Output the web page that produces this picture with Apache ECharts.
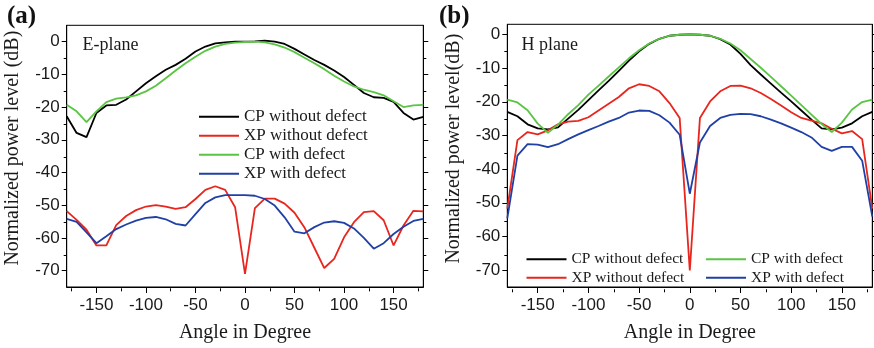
<!DOCTYPE html>
<html><head><meta charset="utf-8">
<script src="https://cdn.jsdelivr.net/npm/echarts@6/dist/echarts.min.js"></script>
<style>html,body{margin:0;padding:0;background:#fff}#c{width:874px;height:348px}</style>
</head><body><div id="c"></div>
<script>
// ---------- data ----------
const angles = [-180,-170,-160,-150,-140,-130,-120,-110,-100,-90,-80,-70,-60,-50,-40,-30,-20,-10,0,10,20,30,40,50,60,70,80,90,100,110,120,130,140,150,160,170,180];
const seriesNames = ['CP without defect','XP without defect','CP with defect','XP with defect'];

// (a) E-plane
const aCPwithout = [-22.8,-27.9,-29.2,-21.8,-19.5,-19.3,-17.7,-15.2,-12.7,-10.6,-8.6,-7.1,-5.2,-3.0,-1.5,-0.5,-0.2,0,0,0.1,0.3,0,-0.7,-2.2,-3.9,-5.6,-7.1,-8.8,-10.8,-13.2,-15.7,-17.0,-17.2,-18.4,-21.8,-23.8,-23.0];
const aXPwithout = [-51.8,-54.5,-57.5,-62.3,-62.3,-56.1,-53.3,-51.5,-50.4,-50.0,-50.4,-51.1,-50.6,-48.1,-45.3,-44.2,-45.3,-50.6,-71.0,-50.9,-48.0,-48.0,-49.5,-52.3,-56.8,-63.0,-69.2,-66.4,-59.8,-55.2,-52.1,-51.8,-54.6,-62.3,-56.2,-51.7,-51.9];
const aCPwith = [-19.3,-21.3,-24.6,-21.3,-18.5,-17.4,-17.0,-16.4,-15.2,-13.5,-11.2,-8.8,-6.6,-4.6,-2.8,-1.5,-0.7,-0.3,-0.1,0,-0.2,-0.8,-1.8,-3.2,-4.9,-6.6,-8.4,-10.4,-12.2,-13.7,-14.7,-15.4,-16.4,-18.2,-20.0,-19.5,-19.3];
const aXPwith = [-54.2,-55.1,-58.3,-61.6,-59.5,-57.3,-55.9,-54.7,-53.9,-53.6,-54.3,-55.7,-56.2,-52.7,-49.3,-47.6,-46.9,-46.9,-46.9,-47.1,-48.1,-50.1,-53.7,-58.1,-58.6,-56.7,-55.3,-54.9,-55.4,-57.1,-60.0,-63.3,-61.6,-58.8,-56.6,-54.8,-54.2];

// (b) H plane
const bCPwithout = [-23.0,-24.3,-26.7,-27.9,-28.2,-27.6,-25.0,-22.4,-19.5,-16.6,-13.8,-10.8,-7.8,-5.0,-2.8,-1.3,-0.4,-0.1,0,-0.1,-0.4,-1.4,-3.0,-5.8,-9.1,-11.9,-14.6,-17.3,-19.9,-22.6,-25.3,-27.9,-28.2,-27.7,-26.4,-24.3,-23.0];
const bXPwithout = [-51.7,-31.4,-29.0,-29.7,-28.5,-26.7,-25.9,-25.7,-24.6,-22.6,-20.6,-18.6,-16.0,-14.8,-15.3,-16.9,-20.4,-24.8,-70.1,-24.8,-19.9,-16.9,-15.3,-15.2,-16.0,-17.4,-19.2,-21.1,-23.1,-24.8,-25.6,-26.4,-28.0,-29.4,-28.7,-31.1,-51.7];
const bCPwith = [-19.4,-20.2,-22.5,-26.5,-29.2,-26.8,-23.7,-21.0,-17.9,-15.2,-12.5,-9.8,-7.1,-4.7,-2.7,-1.3,-0.4,-0.1,0,-0.1,-0.4,-1.3,-2.7,-4.7,-7.3,-9.9,-12.6,-15.4,-18.2,-21.0,-23.8,-26.6,-29.0,-26.2,-22.3,-20.1,-19.4];
const bXPwith = [-54.6,-36.0,-32.6,-32.7,-33.5,-32.6,-31.1,-29.7,-28.4,-27.2,-25.9,-24.8,-23.2,-22.6,-22.7,-24.0,-26.2,-29.8,-47.3,-32.1,-27.2,-24.8,-23.9,-23.6,-23.7,-24.3,-25.3,-26.4,-27.7,-29.0,-30.6,-33.4,-34.6,-33.4,-33.4,-37.5,-54.1];

// ticks
const xMajor = [-150,-100,-50,0,50,100,150];
const xMinor = [-175,-125,-75,-25,25,75,125,175];
const yMajor = [-70,-60,-50,-40,-30,-20,-10,0];
const yMinor = [-65,-55,-45,-35,-25,-15,-5];

// ---------- style ----------
const SERIF = '"Liberation Serif","Times New Roman",serif';
const SANS = '"Liberation Sans",Arial,sans-serif';
const COLORS = {'CP without defect':'#000000','XP without defect':'#e8261e','CP with defect':'#5ac443','XP with defect':'#2140a6'};
const TXT = '#1a1a1a';

const gridA = {left:66.7, right:450.7, top:25.3, bottom:59.7};
const gridB = {left:507.3, right:1.7, top:24.3, bottom:58.7};
const yRangeA = {min:-75, max:5};
const yRangeB = {min:-75, max:3};

function xMain(g){
  return {gridIndex:g, type:'value', min:-180, max:180, position:'bottom',
    axisLine:{onZero:false, lineStyle:{color:'#000',width:1}},
    axisTick:{customValues:xMajor, length:6, lineStyle:{color:'#000'}},
    axisLabel:{customValues:xMajor, fontSize:17, fontFamily:SANS, color:TXT, margin:10},
    splitLine:{show:false},
    name:'Angle in Degree', nameLocation:'middle', nameGap:36,
    nameTextStyle:{fontFamily:SERIF, fontSize:20, color:TXT}};
}
function xMinorAx(g){
  return {gridIndex:g, type:'value', min:-180, max:180, position:'bottom',
    axisLine:{show:false, onZero:false}, axisTick:{customValues:xMinor, length:3, lineStyle:{color:'#000'}},
    axisLabel:{show:false}, splitLine:{show:false}};
}
function yMain(g, r, name, pad){
  return {gridIndex:g, type:'value', min:r.min, max:r.max, position:'left',
    axisLine:{show:true, onZero:false, lineStyle:{color:'#000',width:1}},
    axisTick:{show:true, customValues:yMajor, length:5, lineStyle:{color:'#000'}},
    axisLabel:{customValues:yMajor, fontSize:17, fontFamily:SANS, color:TXT, margin:7},
    splitLine:{show:false},
    name:name, nameLocation:'middle', nameGap:44, nameRotate:90,
    nameTextStyle:{fontFamily:SERIF, fontSize:20, color:TXT, padding:[0,0,0,pad]}};
}
function yRightMain(g, r){
  return {gridIndex:g, type:'value', min:r.min, max:r.max, position:'right',
    axisLine:{show:true, onZero:false, lineStyle:{color:'#000',width:1}},
    axisTick:{show:true, customValues:yMajor, length:5, lineStyle:{color:'#000'}},
    axisLabel:{show:false}, splitLine:{show:false}};
}
function yMinorAx(g, r, pos){
  return {gridIndex:g, type:'value', min:r.min, max:r.max, position:pos,
    axisLine:{show:false, onZero:false},
    axisTick:{show:true, customValues:yMinor, length:3, lineStyle:{color:'#000'}},
    axisLabel:{show:false}, splitLine:{show:false}};
}

function mkSeries(name, vals, xi, yi){
  return {type:'line', name:name, xAxisIndex:xi, yAxisIndex:yi,
    data: angles.map((a,i)=>[a, vals[i]]),
    symbol:'none', smooth:false, z:3,
    lineStyle:{color:COLORS[name], width:1.8},
    itemStyle:{color:COLORS[name]}};
}

const borderGrid = {show:true, borderColor:'#000', borderWidth:1, backgroundColor:'transparent'};
function legendCfg(left, top, names, fs, lh){
  return {orient:'vertical', left:left, top:top, icon:'rect', itemWidth:40, itemHeight:2, itemGap:0,
    data:names, selectedMode:false,
    textStyle:{fontFamily:SERIF, fontSize:fs, color:TXT, lineHeight:lh}};
}

const option = {
  animation:false,
  backgroundColor:'#fff',
  grid:[
    Object.assign({}, gridA, borderGrid),
    Object.assign({}, gridB, borderGrid),
    Object.assign({}, gridA),
    Object.assign({}, gridB)
  ],
  xAxis:[xMain(0), xMain(1), xMinorAx(2), xMinorAx(3)],
  yAxis:[
    yMain(0, yRangeA, 'Normalized power level (dB)', 16),
    yRightMain(0, yRangeA),
    yMain(1, yRangeB, 'Normalized power level(dB)', 14),
    yRightMain(1, yRangeB),
    yMinorAx(2, yRangeA, 'left'),
    yMinorAx(2, yRangeA, 'right'),
    yMinorAx(3, yRangeB, 'left'),
    yMinorAx(3, yRangeB, 'right')
  ],
  legend:[
    legendCfg(194, 102.2, ['CP without defect','XP without defect','CP with defect','XP with defect'], 17, 19),
    legendCfg(521.5, 245.1, ['CP without defect','XP without defect'], 15.5, 18.4),
    legendCfg(701, 245.1, ['CP with defect','XP with defect'], 15.5, 18.4)
  ],
  graphic:[
    {type:'text', left:7, top:4, style:{text:'(a)', font:'bold 25px "Liberation Serif"', fill:'#111'}},
    {type:'text', left:439, top:4, style:{text:'(b)', font:'bold 25px "Liberation Serif"', fill:'#111'}},
    {type:'text', left:82.5, top:36, style:{text:'E-plane', font:'18px "Liberation Serif"', fill:TXT}},
    {type:'text', left:521.5, top:36, style:{text:'H plane', font:'18px "Liberation Serif"', fill:TXT}}
  ],
  series:[
    mkSeries('CP without defect', aCPwithout, 0, 0),
    mkSeries('XP without defect', aXPwithout, 0, 0),
    mkSeries('CP with defect', aCPwith, 0, 0),
    mkSeries('XP with defect', aXPwith, 0, 0),
    mkSeries('CP without defect', bCPwithout, 1, 2),
    mkSeries('XP without defect', bXPwithout, 1, 2),
    mkSeries('CP with defect', bCPwith, 1, 2),
    mkSeries('XP with defect', bXPwith, 1, 2)
  ]
};
const chart = echarts.init(document.getElementById('c'), null, {renderer:'canvas'});
chart.setOption(option);
</script></body></html>
